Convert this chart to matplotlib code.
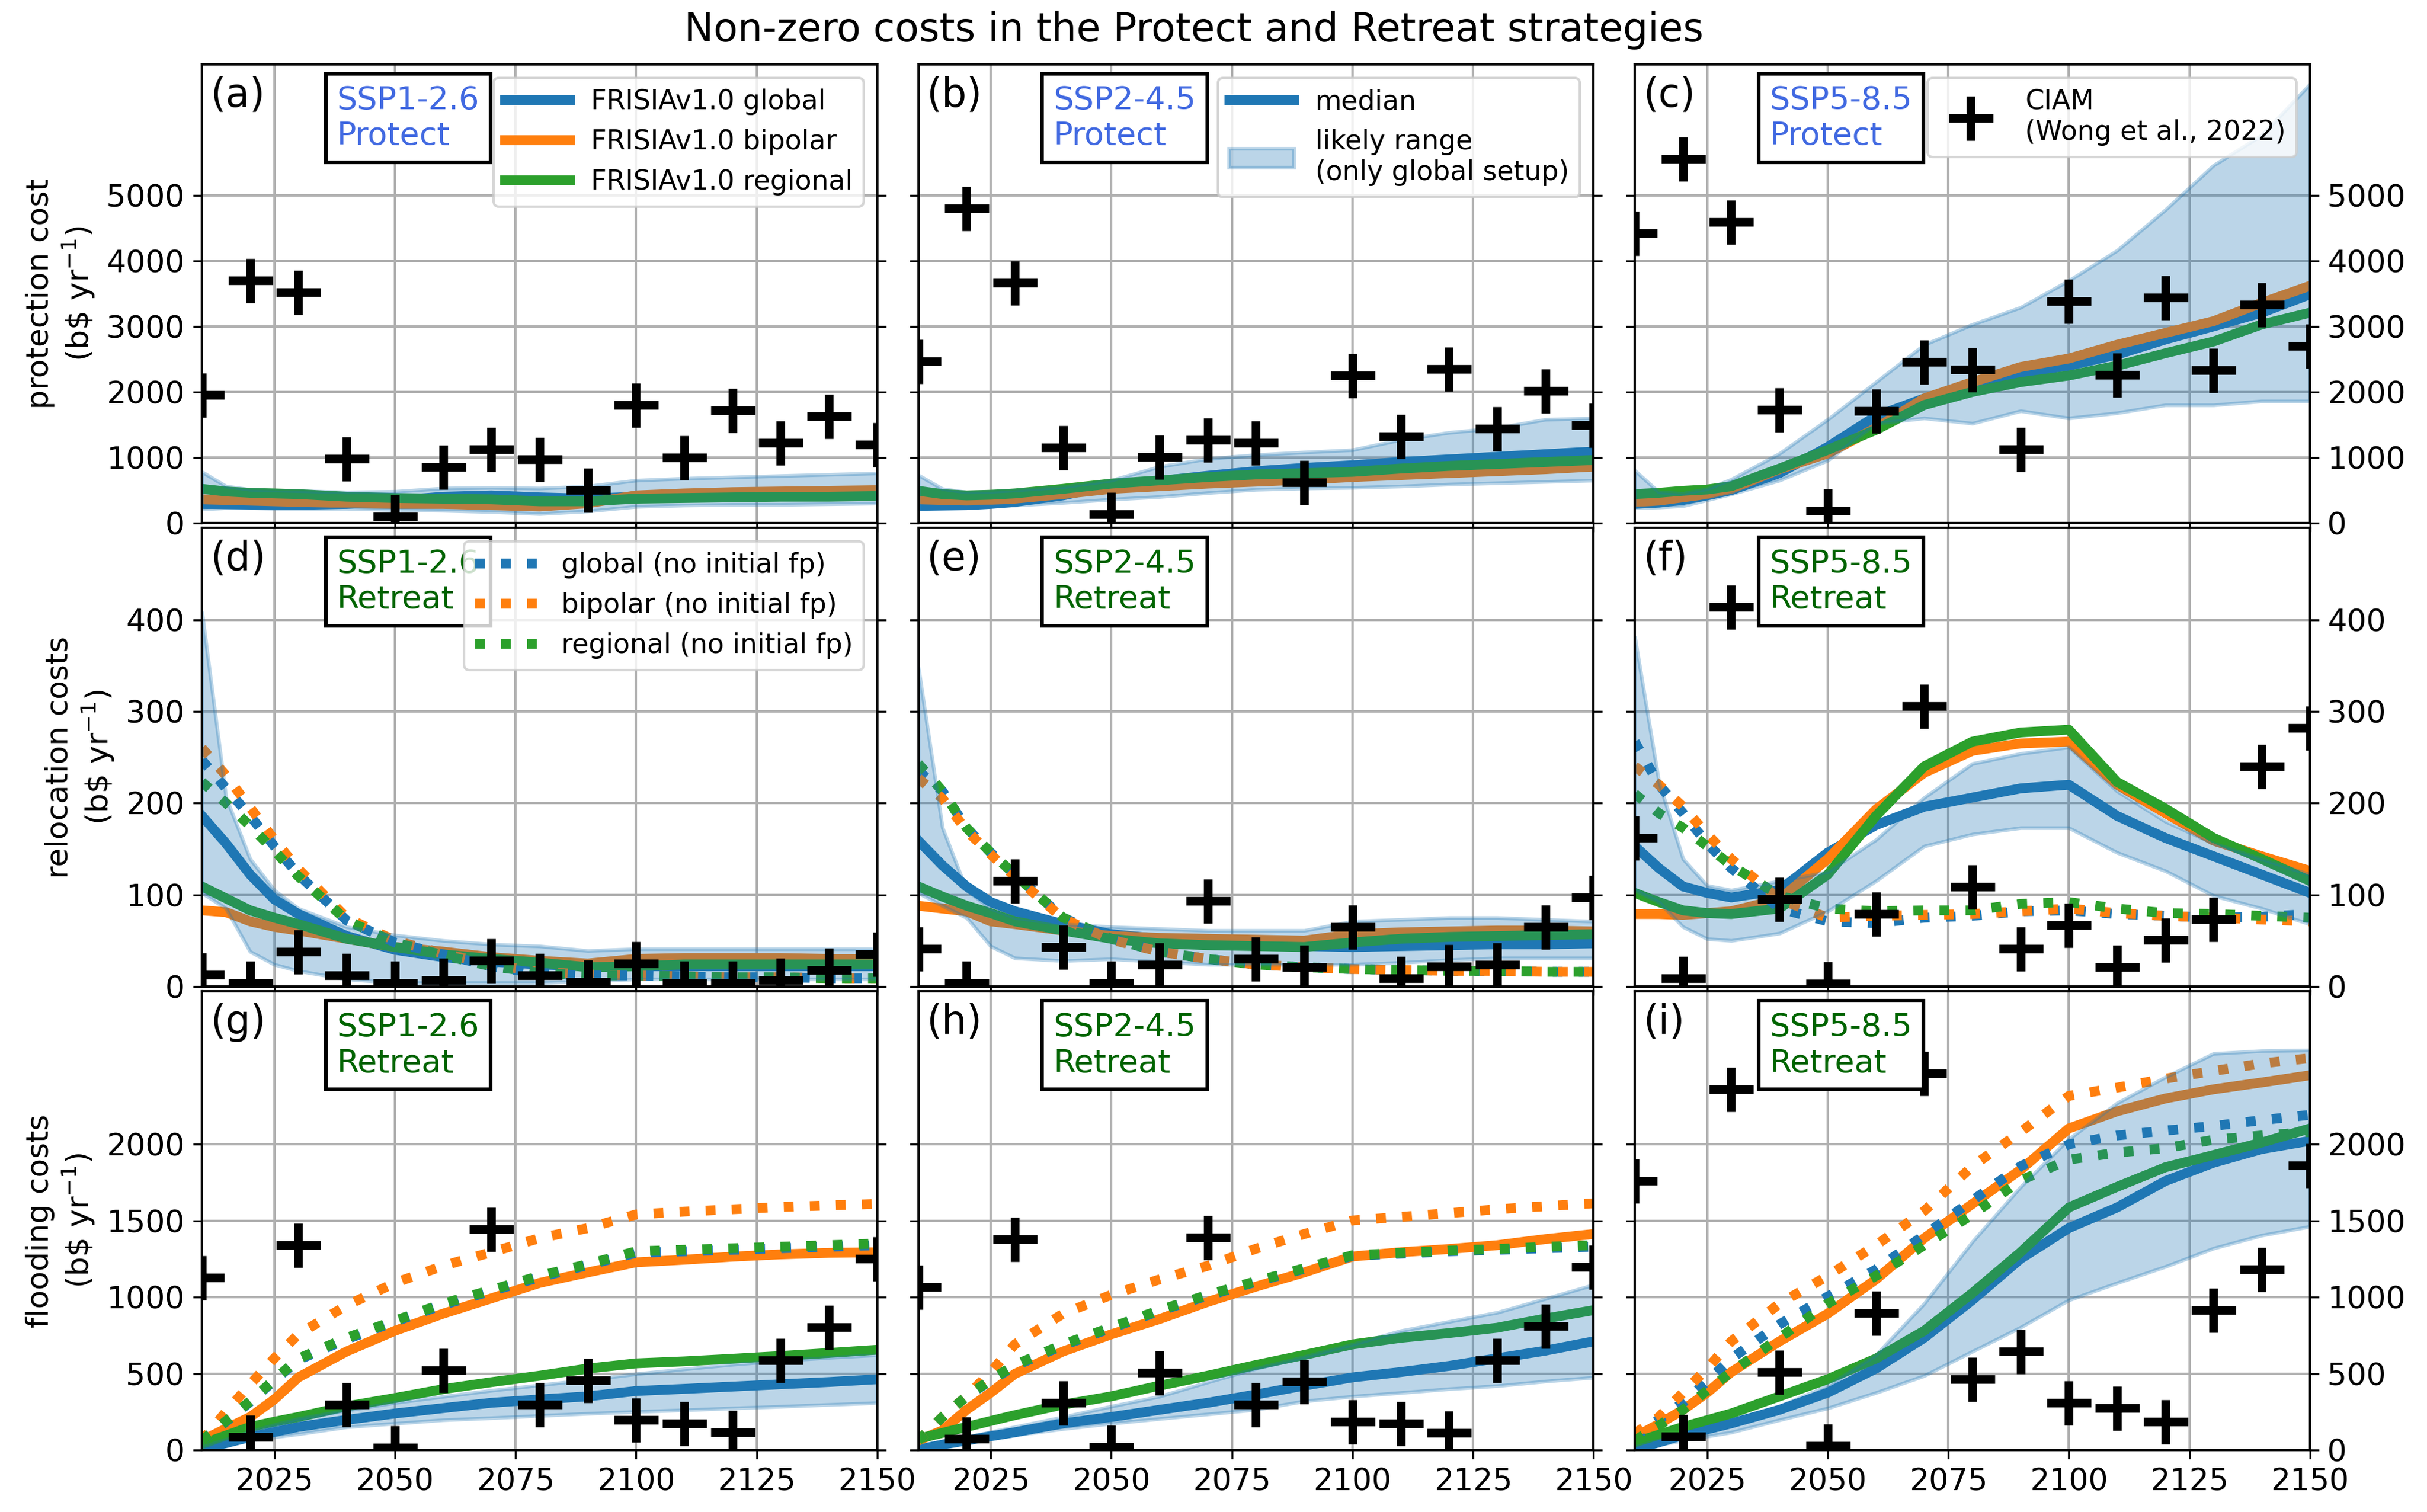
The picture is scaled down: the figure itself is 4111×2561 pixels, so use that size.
import matplotlib.pyplot as plt

plt.rcParams['axes.linewidth'] = 1.0

# sample years for the model curves and the CIAM points
yrs = [2010, 2015, 2020, 2025, 2030, 2040, 2050, 2060, 2070, 2080, 2090, 2100, 2110, 2120, 2130, 2140, 2150]
ciam_yrs = [2010, 2020, 2030, 2040, 2050, 2060, 2070, 2080, 2090, 2100, 2110, 2120, 2130, 2140, 2150]

# (a) protection, SSP1-2.6
a_glob = [290, 285, 280, 275, 275, 290, 340, 400, 420, 390, 370, 400, 420, 430, 440, 440, 450]
a_bip = [360, 350, 340, 330, 320, 300, 290, 290, 270, 250, 300, 420, 450, 470, 480, 490, 500]
a_reg = [520, 480, 460, 450, 440, 400, 380, 370, 360, 330, 330, 370, 380, 390, 400, 400, 410]
a_lo = [210, 230, 230, 220, 220, 220, 200, 190, 170, 140, 180, 250, 270, 280, 280, 290, 300]
a_hi = [780, 560, 510, 500, 490, 470, 480, 530, 540, 530, 560, 650, 680, 700, 720, 740, 760]
a_ciam = [1950, 3700, 3520, 980, 100, 850, 1120, 970, 500, 1800, 1000, 1720, 1220, 1630, 1200]

# (b) protection, SSP2-4.5
b_glob = [260, 265, 270, 290, 320, 420, 580, 640, 720, 790, 840, 880, 930, 970, 1010, 1050, 1090]
b_bip = [360, 350, 340, 350, 370, 440, 520, 560, 600, 630, 660, 700, 730, 760, 790, 820, 860]
b_reg = [490, 440, 420, 430, 450, 520, 600, 650, 700, 740, 760, 780, 830, 870, 900, 930, 960]
b_lo = [210, 240, 250, 260, 270, 310, 360, 400, 460, 510, 530, 540, 560, 590, 610, 630, 650]
b_hi = [730, 520, 470, 480, 500, 550, 650, 860, 980, 1040, 1080, 1115, 1270, 1380, 1450, 1580, 1600]
b_ciam = [2470, 4800, 3670, 1150, 130, 1010, 1270, 1220, 620, 2250, 1320, 2350, 1440, 2020, 1490]

# (c) protection, SSP5-8.5
c_glob = [290, 310, 350, 420, 500, 760, 1160, 1630, 1900, 2100, 2290, 2400, 2570, 2800, 3000, 3210, 3490]
c_bip = [315, 340, 390, 440, 520, 820, 1060, 1450, 1900, 2150, 2380, 2510, 2720, 2900, 3080, 3360, 3620]
c_reg = [440, 460, 490, 510, 560, 830, 1115, 1420, 1800, 2000, 2150, 2250, 2400, 2590, 2770, 3030, 3210]
c_lo = [230, 240, 260, 350, 440, 650, 955, 1520, 1600, 1520, 1710, 1600, 1680, 1800, 1800, 1860, 1860]
c_hi = [800, 470, 450, 520, 665, 1060, 1580, 2150, 2720, 3030, 3290, 3700, 4160, 4780, 5460, 5920, 6700]
c_ciam = [4420, 5560, 4590, 1730, 190, 1710, 2460, 2340, 1120, 3390, 2260, 3440, 2330, 3330, 2700]

# (d) relocation, SSP1-2.6
d_glob = [186, 156, 122, 95, 79, 55, 40, 32, 27, 24, 22, 22, 22, 22, 22, 22, 22]
d_bip = [83, 81, 71, 65, 61, 52, 43, 38, 32, 28, 25, 30, 31, 31, 31, 30, 30]
d_reg = [109, 96, 83, 75, 68, 52, 43, 35, 30, 26, 21, 22, 24, 24, 24, 24, 24]
d_glob_nf = [247, 216, 186, 153, 122, 72, 48, 35, 22, 14, 12, 12, 11, 10, 10, 9, 9]
d_bip_nf = [260, 230, 195, 160, 128, 75, 50, 36, 24, 16, 13, 12, 11, 10, 10, 9, 9]
d_reg_nf = [223, 200, 175, 148, 120, 72, 48, 34, 22, 15, 12, 12, 11, 10, 10, 9, 9]
d_lo = [102, 85, 38, 24, 17, 8, 4, 4, 4, 4, 6, 8, 8, 8, 8, 8, 8]
d_hi = [408, 206, 139, 105, 85, 65, 56, 50, 46, 44, 39, 41, 41, 41, 41, 41, 41]
d_ciam = [13, 4, 38, 12, 4, 7, 28, 12, 5, 25, 4, 4, 7, 18, 35]

# (e) relocation, SSP2-4.5
e_glob = [159, 132, 109, 92, 82, 68, 57, 52, 48, 46, 44, 43, 44, 45, 46, 46, 47]
e_bip = [88, 85, 82, 71, 68, 61, 55, 53, 52, 51, 50, 57, 59, 60, 61, 61, 60]
e_reg = [109, 98, 88, 80, 71, 61, 52, 47, 45, 44, 43, 48, 52, 54, 55, 56, 57]
e_glob_nf = [235, 213, 173, 146, 122, 75, 52, 38, 30, 24, 21, 19, 18, 17, 17, 16, 16]
e_bip_nf = [227, 205, 170, 144, 120, 74, 51, 38, 30, 24, 21, 19, 18, 17, 17, 16, 16]
e_reg_nf = [243, 213, 173, 146, 122, 75, 52, 38, 30, 24, 21, 19, 18, 17, 17, 16, 16]
e_lo = [102, 88, 75, 44, 31, 28, 30, 27, 24, 24, 24, 24, 26, 29, 31, 31, 31]
e_hi = [348, 173, 105, 85, 75, 68, 65, 63, 61, 61, 61, 71, 73, 75, 75, 73, 71]
e_ciam = [41, 4, 115, 43, 4, 24, 93, 30, 21, 65, 9, 22, 24, 65, 97]

# (f) relocation, SSP5-8.5
f_glob = [153, 129, 109, 102, 97, 105, 146, 176, 196, 206, 216, 220, 186, 162, 142, 122, 102]
f_bip = [79, 79, 78, 80, 82, 95, 139, 193, 233, 257, 265, 267, 220, 189, 159, 142, 126]
f_reg = [102, 92, 83, 80, 79, 85, 122, 186, 240, 267, 277, 280, 223, 194, 162, 139, 115]
f_glob_nf = [267, 220, 189, 156, 129, 85, 71, 69, 75, 77, 82, 83, 79, 77, 75, 76, 79]
f_bip_nf = [240, 220, 196, 166, 139, 95, 75, 77, 78, 79, 82, 85, 80, 77, 75, 73, 71]
f_reg_nf = [210, 189, 173, 153, 132, 99, 85, 82, 83, 83, 90, 92, 85, 80, 79, 77, 75]
f_lo = [105, 92, 65, 52, 50, 58, 82, 115, 153, 166, 173, 173, 146, 126, 99, 85, 68]
f_hi = [381, 223, 139, 110, 105, 115, 125, 160, 206, 243, 254, 261, 213, 180, 156, 139, 122]
f_ciam = [162, 9, 414, 95, 3, 79, 306, 109, 41, 67, 21, 51, 73, 240, 282]

# (g) flooding, SSP1-2.6
g_glob = [4, 45, 85, 118, 151, 197, 239, 274, 309, 331, 351, 386, 400, 415, 430, 445, 463]
g_bip = [62, 140, 216, 331, 475, 645, 780, 892, 992, 1093, 1162, 1228, 1245, 1265, 1280, 1290, 1294]
g_reg = [39, 95, 151, 185, 216, 286, 340, 398, 444, 486, 533, 567, 580, 597, 615, 635, 656]
g_glob_nf = [62, 185, 315, 455, 590, 725, 840, 950, 1040, 1130, 1210, 1290, 1300, 1310, 1320, 1330, 1340]
g_bip_nf = [62, 250, 430, 600, 757, 946, 1093, 1205, 1294, 1386, 1452, 1541, 1560, 1575, 1590, 1600, 1610]
g_reg_nf = [62, 190, 320, 460, 598, 734, 846, 958, 1047, 1139, 1216, 1300, 1310, 1320, 1330, 1340, 1351]
g_lo = [4, 35, 62, 85, 105, 151, 174, 197, 210, 225, 239, 251, 262, 274, 285, 297, 309]
g_hi = [20, 70, 120, 165, 205, 260, 310, 350, 390, 425, 460, 498, 530, 560, 585, 605, 622]
g_ciam = [1127, 85, 1340, 297, 15, 521, 1444, 297, 456, 197, 174, 116, 587, 803, 1251]

# (h) flooding, SSP2-4.5
h_glob = [4, 35, 62, 90, 116, 174, 216, 263, 309, 363, 421, 475, 510, 550, 600, 650, 711]
h_bip = [62, 128, 263, 375, 498, 645, 757, 857, 969, 1069, 1162, 1266, 1294, 1315, 1340, 1380, 1413]
h_reg = [74, 112, 151, 190, 228, 297, 351, 421, 486, 556, 622, 691, 734, 765, 800, 860, 915]
h_glob_nf = [62, 216, 351, 455, 550, 685, 798, 910, 1010, 1100, 1185, 1270, 1285, 1300, 1310, 1320, 1330]
h_bip_nf = [62, 216, 351, 510, 691, 892, 1015, 1116, 1205, 1317, 1413, 1502, 1525, 1550, 1575, 1595, 1614]
h_reg_nf = [62, 216, 351, 460, 556, 691, 803, 915, 1015, 1104, 1189, 1274, 1290, 1305, 1315, 1330, 1340]
h_lo = [4, 27, 50, 74, 97, 139, 174, 205, 235, 265, 320, 351, 375, 400, 420, 450, 475]
h_hi = [20, 52, 85, 118, 151, 216, 286, 351, 444, 533, 610, 691, 780, 840, 900, 990, 1081]
h_ciam = [1066, 74, 1378, 309, 19, 506, 1390, 297, 448, 185, 174, 112, 587, 811, 1197]

# (i) flooding, SSP5-8.5
i_glob = [4, 50, 97, 135, 174, 263, 375, 533, 734, 981, 1251, 1452, 1587, 1760, 1880, 1969, 2023]
i_bip = [85, 170, 263, 375, 510, 711, 892, 1116, 1386, 1610, 1834, 2104, 2216, 2300, 2360, 2405, 2452]
i_reg = [50, 100, 151, 195, 239, 351, 463, 598, 780, 1027, 1294, 1587, 1722, 1850, 1930, 2012, 2104]
i_glob_nf = [85, 200, 309, 450, 598, 822, 1004, 1181, 1405, 1633, 1857, 2000, 2058, 2090, 2120, 2158, 2193]
i_bip_nf = [108, 216, 375, 533, 711, 958, 1139, 1340, 1564, 1857, 2081, 2317, 2371, 2430, 2480, 2529, 2564]
i_reg_nf = [62, 160, 263, 390, 510, 734, 958, 1139, 1340, 1541, 1764, 1900, 1946, 1975, 2030, 2058, 2081]
i_lo = [4, 35, 62, 90, 116, 197, 274, 375, 486, 645, 803, 981, 1093, 1200, 1320, 1405, 1463]
i_hi = [20, 65, 108, 150, 197, 286, 421, 622, 958, 1363, 1722, 2035, 2270, 2440, 2594, 2612, 2617]
i_ciam = [1761, 89, 2359, 510, 27, 896, 2463, 463, 645, 309, 274, 185, 915, 1181, 1861]

scenarios = ['SSP1-2.6', 'SSP2-4.5', 'SSP5-8.5']
letters = 'abcdefghi'
ylabels = ['protection cost\n' + r'(b\$ yr$^{-1}$)',
           'relocation costs\n' + r'(b\$ yr$^{-1}$)',
           'flooding costs\n' + r'(b\$ yr$^{-1}$)']

panels = [
    [(a_glob, a_bip, a_reg, None, a_lo, a_hi, a_ciam),
     (b_glob, b_bip, b_reg, None, b_lo, b_hi, b_ciam),
     (c_glob, c_bip, c_reg, None, c_lo, c_hi, c_ciam)],
    [(d_glob, d_bip, d_reg, (d_glob_nf, d_bip_nf, d_reg_nf), d_lo, d_hi, d_ciam),
     (e_glob, e_bip, e_reg, (e_glob_nf, e_bip_nf, e_reg_nf), e_lo, e_hi, e_ciam),
     (f_glob, f_bip, f_reg, (f_glob_nf, f_bip_nf, f_reg_nf), f_lo, f_hi, f_ciam)],
    [(g_glob, g_bip, g_reg, (g_glob_nf, g_bip_nf, g_reg_nf), g_lo, g_hi, g_ciam),
     (h_glob, h_bip, h_reg, (h_glob_nf, h_bip_nf, h_reg_nf), h_lo, h_hi, h_ciam),
     (i_glob, i_bip, i_reg, (i_glob_nf, i_bip_nf, i_reg_nf), i_lo, i_hi, i_ciam)],
]

colors = ['tab:blue', 'tab:orange', 'tab:green']
ylims = [7000, 500, 3000]
yticks = [range(0, 5001, 1000), range(0, 401, 100), range(0, 2001, 500)]

fig, axs = plt.subplots(3, 3, figsize=(4111 / 300, 2561 / 300), dpi=300, sharex=True)
fig.subplots_adjust(left=0.0832, right=0.9518, bottom=0.041, top=0.9574,
                    wspace=0.061, hspace=0.011)

for r in range(3):
    for c in range(3):
        ax = axs[r, c]
        glob, bip, reg, nf, lo, hi, ciam = panels[r][c]
        solid = []
        names = ['FRISIAv1.0 global', 'FRISIAv1.0 bipolar', 'FRISIAv1.0 regional']
        for series, col, nm in zip([glob, bip, reg], colors, names):
            ln, = ax.plot(yrs, series, color=col, lw=4, label=nm, zorder=2)
            solid.append(ln)
        dotted = []
        if nf is not None:
            nf_names = ['global (no initial fp)', 'bipolar (no initial fp)', 'regional (no initial fp)']
            for series, col, nm in zip(nf, colors, nf_names):
                ln, = ax.plot(yrs, series, color=col, lw=4, ls=':', label=nm, zorder=2)
                dotted.append(ln)
        # likely range drawn over the lines, semi-transparent
        band = ax.fill_between(yrs, lo, hi, color='tab:blue', alpha=0.3, lw=1.5, zorder=2.2)
        mk, = ax.plot(ciam_yrs, ciam, '+', color='k', ms=18, mew=3.5, zorder=3)

        ax.set_xlim(2010, 2150)
        ax.set_ylim(0, ylims[r])
        ax.set_yticks(list(yticks[r]))
        ax.set_xticks([2025, 2050, 2075, 2100, 2125, 2150])
        ax.grid(True, color='#b0b0b0', lw=1)
        ax.tick_params(labelsize=12.5, left=True, right=True)
        if c == 1:
            ax.tick_params(labelleft=False)
        if c == 2:
            ax.tick_params(labelleft=False, labelright=True)
        if c == 0:
            ax.set_ylabel(ylabels[r], fontsize=12.5)

        ax.text(0.012, 0.975, '(' + letters[3 * r + c] + ')', transform=ax.transAxes,
                fontsize=16, va='top', ha='left')
        if r == 0:
            box_txt, box_col = scenarios[c] + '\nProtect', 'royalblue'
        else:
            box_txt, box_col = scenarios[c] + '\nRetreat', 'darkgreen'
        ax.text(0.2, 0.955, box_txt, transform=ax.transAxes, fontsize=13,
                color=box_col, va='top', ha='left',
                bbox=dict(boxstyle='square,pad=0.35', fc='white', ec='black', lw=1.5))

        if r == 0 and c == 0:
            ax.legend(handles=solid, loc='upper right', fontsize=11, handlelength=2.4)
        if r == 0 and c == 1:
            solid[0].set_label('median')
            band.set_label('likely range\n(only global setup)')
            ax.legend(handles=[solid[0], band], loc='upper right', fontsize=11, handlelength=2.4)
        if r == 0 and c == 2:
            mk.set_label('CIAM\n(Wong et al., 2022)')
            ax.legend(handles=[mk], loc='upper right', fontsize=11, handlelength=2.4)
        if r == 1 and c == 0:
            ax.legend(handles=dotted, loc='upper right', fontsize=11, handlelength=2.4)

fig.suptitle('Non-zero costs in the Protect and Retreat strategies', fontsize=16, x=0.492, y=0.993)

fig.savefig('out.png', dpi=300)
